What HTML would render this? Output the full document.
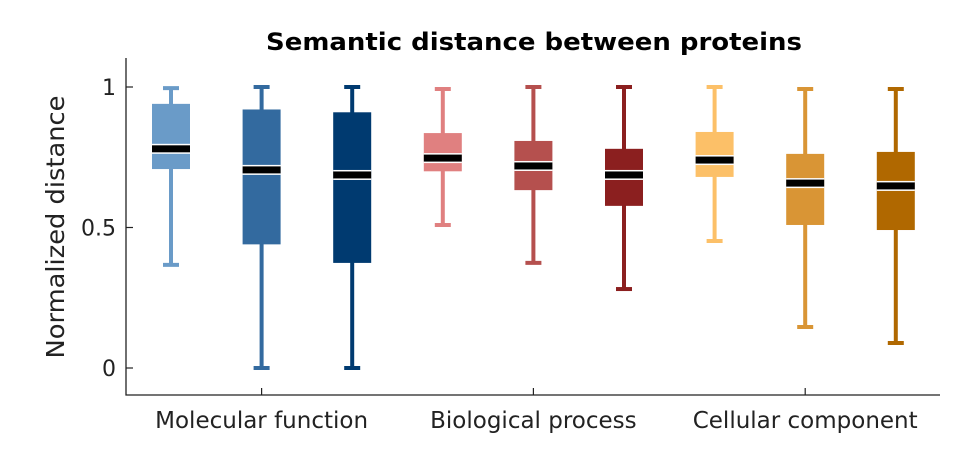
<!DOCTYPE html>
<html><head><meta charset="utf-8"><style>
html,body{margin:0;padding:0;background:#fff;}
svg{display:block;font-family:"DejaVu Sans","Liberation Sans",sans-serif;}
</style></head><body>
<svg id="chart" width="973" height="453">
<text x="534" y="50" text-anchor="middle" font-size="24" font-weight="bold" fill="#000" textLength="536" lengthAdjust="spacingAndGlyphs">Semantic distance between proteins</text>
<text transform="translate(64,227) rotate(-90)" text-anchor="middle" font-size="25" fill="#222" textLength="263" lengthAdjust="spacingAndGlyphs">Normalized distance</text>
<g id="plot"></g>
</svg>
<script>
const groups = ["Molecular function","Biological process","Cellular component"];
const whiskerHigh = [0.996,1,1,0.993,1,1,1,0.993,0.993];
const q3 = [0.94,0.92,0.91,0.836,0.808,0.78,0.84,0.762,0.769];
const medians = [0.78,0.705,0.687,0.747,0.719,0.687,0.74,0.658,0.648];
const q1 = [0.708,0.44,0.374,0.70,0.633,0.577,0.68,0.509,0.491];
const whiskerLow = [0.367,0,0,0.509,0.374,0.281,0.452,0.146,0.089];
const yTicks = [0,0.5,1];
const yTickLabels = ["0","0.5","1"];
const colors = ["#6a9bc8","#336a9f","#003a70","#e08080","#b5504e","#8b1f1f","#fcc068","#d99535","#b06800"];

const NS="http://www.w3.org/2000/svg";
const g=document.getElementById('plot');
const L=126,R=940,T=58,B=395;
const y=v=>368-v*281;
const x=i=>171+i*90.6;
function mk(tag,a){const e=document.createElementNS(NS,tag);for(const k in a)e.setAttribute(k,a[k]);g.appendChild(e);return e;}

const ax=mk('path',{d:`M${L},${T}V${B}H${R}`,stroke:'#222','stroke-width':1.3,fill:'none'});


yTicks.forEach((t,i)=>{
  const tk=mk('line',{x1:L,x2:L+7,y1:y(t),y2:y(t),stroke:'#222','stroke-width':1.2});
  
  
  const tl=mk('text',{x:L-10,y:y(t)+8,'text-anchor':'end','font-size':22,fill:'#222'});
  tl.textContent=yTickLabels[i];
  
  
});
groups.forEach((gn,i)=>{
  const cx=x(i*3+1);
  const tk=mk('line',{x1:cx,x2:cx,y1:B,y2:B-7,stroke:'#222','stroke-width':1.2});
  
  
  const tl=mk('text',{x:cx,y:428,'text-anchor':'middle','font-size':23,fill:'#222'});
  tl.textContent=gn;
  
  
});
colors.forEach((c,i)=>{
  const cx=x(i),w=38,cw=16;
  const wl=mk('line',{x1:cx,x2:cx,y1:y(whiskerHigh[i]),y2:y(whiskerLow[i]),stroke:c,'stroke-width':4});
  
  
  [whiskerHigh[i],whiskerLow[i]].forEach(v=>{
    const cp=mk('line',{x1:cx-cw/2,x2:cx+cw/2,y1:y(v),y2:y(v),stroke:c,'stroke-width':4});
    
    
  });
  const bx=mk('rect',{x:cx-w/2,y:y(q3[i]),width:w,height:y(q1[i])-y(q3[i]),fill:c});
  
  
  const mw=mk('rect',{x:cx-w/2,y:y(medians[i])-5,width:w,height:10,fill:'#fff'});
  
  
  const md=mk('rect',{x:cx-w/2,y:y(medians[i])-3.5,width:w,height:7,fill:'#000'});
  
  
});
</script>
</body></html>
